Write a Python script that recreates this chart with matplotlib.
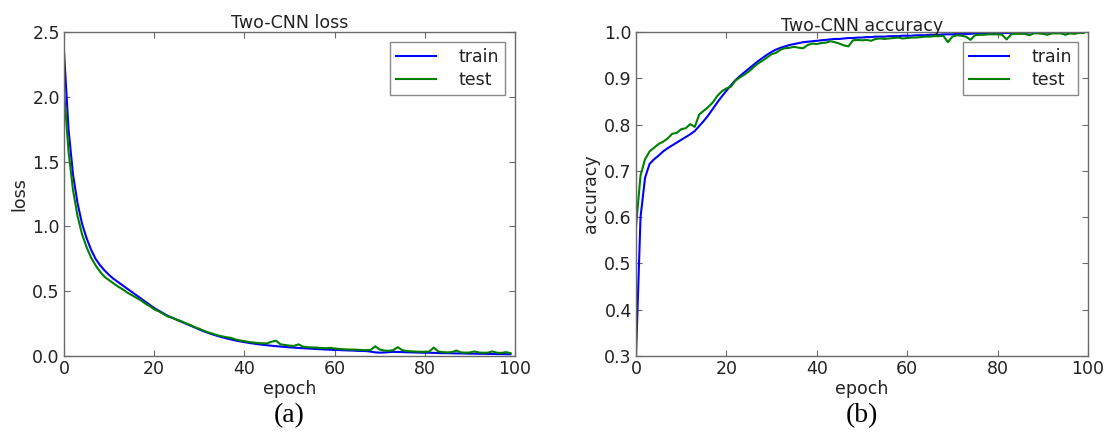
import matplotlib
matplotlib.use("Agg")
import matplotlib.pyplot as plt

epochs = list(range(100))

loss_train = [
    2.35, 1.75, 1.40, 1.18, 1.02, 0.91, 0.82, 0.75, 0.70, 0.66,
    0.625, 0.595, 0.57, 0.545, 0.52, 0.495, 0.47, 0.445, 0.42, 0.395,
    0.37, 0.35, 0.33, 0.31, 0.295, 0.28, 0.265, 0.25, 0.235, 0.22,
    0.205, 0.19, 0.178, 0.166, 0.155, 0.145, 0.136, 0.128, 0.12, 0.113,
    0.107, 0.101, 0.096, 0.091, 0.087, 0.083, 0.079, 0.076, 0.073, 0.07,
    0.067, 0.065, 0.062, 0.06, 0.058, 0.056, 0.054, 0.052, 0.05, 0.049,
    0.047, 0.046, 0.044, 0.043, 0.042, 0.04, 0.039, 0.038, 0.034, 0.028,
    0.026, 0.027, 0.03, 0.032, 0.031, 0.03, 0.029, 0.028, 0.027, 0.026,
    0.025, 0.025, 0.024, 0.023, 0.022, 0.022, 0.021, 0.02, 0.02, 0.019,
    0.018, 0.018, 0.017, 0.017, 0.016, 0.016, 0.015, 0.015, 0.014, 0.014,
]
loss_test = [
    2.05, 1.58, 1.28, 1.08, 0.94, 0.84, 0.76, 0.70, 0.65, 0.61,
    0.585, 0.56, 0.535, 0.515, 0.49, 0.47, 0.45, 0.43, 0.405, 0.385,
    0.36, 0.345, 0.325, 0.305, 0.295, 0.28, 0.268, 0.252, 0.24, 0.222,
    0.21, 0.195, 0.182, 0.172, 0.16, 0.152, 0.145, 0.14, 0.128, 0.12,
    0.115, 0.108, 0.104, 0.1, 0.098, 0.097, 0.11, 0.118, 0.09, 0.085,
    0.08, 0.078, 0.09, 0.072, 0.068, 0.066, 0.065, 0.062, 0.06, 0.063,
    0.058, 0.055, 0.052, 0.05, 0.05, 0.048, 0.046, 0.045, 0.047, 0.075,
    0.05, 0.042, 0.04, 0.045, 0.068, 0.045, 0.038, 0.036, 0.034, 0.033,
    0.032, 0.035, 0.065, 0.035, 0.03, 0.028, 0.03, 0.042, 0.028, 0.026,
    0.027, 0.035, 0.027, 0.025, 0.026, 0.035, 0.025, 0.024, 0.03, 0.022,
]

acc_train = [
    0.30, 0.60, 0.685, 0.715, 0.725, 0.733, 0.742, 0.749, 0.755, 0.761,
    0.767, 0.773, 0.779, 0.786, 0.797, 0.808, 0.82, 0.834, 0.848, 0.861,
    0.873, 0.885, 0.896, 0.905, 0.913, 0.921, 0.929, 0.937, 0.944, 0.951,
    0.957, 0.962, 0.966, 0.969, 0.972, 0.974, 0.976, 0.978, 0.979, 0.98,
    0.981, 0.982, 0.983, 0.984, 0.985, 0.985, 0.986, 0.987, 0.987, 0.988,
    0.988, 0.989, 0.989, 0.99, 0.99, 0.99, 0.991, 0.991, 0.991, 0.992,
    0.992, 0.992, 0.993, 0.993, 0.993, 0.994, 0.994, 0.994, 0.995, 0.995,
    0.995, 0.996, 0.996, 0.996, 0.996, 0.997, 0.997, 0.997, 0.997, 0.997,
    0.998, 0.998, 0.998, 0.998, 0.998, 0.998, 0.998, 0.999, 0.999, 0.999,
    0.999, 0.999, 0.999, 0.999, 0.999, 0.999, 0.999, 0.999, 0.999, 0.999,
]
acc_test = [
    0.58, 0.69, 0.725, 0.742, 0.75, 0.758, 0.763, 0.77, 0.78, 0.782,
    0.79, 0.792, 0.801, 0.795, 0.822, 0.83, 0.838, 0.848, 0.862, 0.872,
    0.878, 0.882, 0.895, 0.902, 0.908, 0.915, 0.924, 0.932, 0.938, 0.945,
    0.952, 0.955, 0.962, 0.965, 0.966, 0.968, 0.966, 0.965, 0.972, 0.975,
    0.974, 0.976, 0.977, 0.98, 0.978, 0.975, 0.971, 0.969, 0.982, 0.983,
    0.982, 0.983, 0.981, 0.985, 0.986, 0.985, 0.986, 0.987, 0.988, 0.986,
    0.987, 0.988, 0.988, 0.989, 0.99, 0.99, 0.991, 0.991, 0.992, 0.978,
    0.99, 0.993, 0.992, 0.99, 0.983, 0.993, 0.994, 0.994, 0.995, 0.995,
    0.995, 0.994, 0.984, 0.995, 0.996, 0.996, 0.996, 0.993, 0.997, 0.997,
    0.996, 0.994, 0.997, 0.997, 0.997, 0.994, 0.997, 0.996, 0.998, 0.998,
]

frame_col = "#6a6a6a"
text_col = "#222222"
fs = 12.5

fig = plt.figure(figsize=(11.09, 4.32), dpi=100)
fig.patch.set_facecolor("white")

ax1 = fig.add_axes([64 / 1109, 76 / 432, 451 / 1109, 324 / 432])
ax2 = fig.add_axes([636 / 1109, 76 / 432, 452 / 1109, 324 / 432])


def style_axes(ax):
    for sp in ax.spines.values():
        sp.set_color(frame_col)
        sp.set_linewidth(1.0)
    ax.tick_params(direction="in", length=4, width=0.8, color=frame_col,
                   top=True, right=True, labelsize=fs, labelcolor=text_col, pad=3)


ax1.plot(epochs, loss_train, color="blue", lw=1.5, label="train")
ax1.plot(epochs, loss_test, color="green", lw=1.5, label="test")
ax1.set_xlim(0, 100)
ax1.set_ylim(0, 2.5)
ax1.set_xticks([0, 20, 40, 60, 80, 100])
ax1.set_yticks([0.0, 0.5, 1.0, 1.5, 2.0, 2.5])
ax1.set_yticklabels(["0.0", "0.5", "1.0", "1.5", "2.0", "2.5"])
ax1.set_title("Two-CNN loss", fontsize=fs, color=text_col, pad=3)
ax1.set_xlabel("epoch", fontsize=fs, color=text_col, labelpad=1)
ax1.set_ylabel("loss", fontsize=fs, color=text_col, labelpad=3)
style_axes(ax1)

ax2.plot(epochs, acc_train, color="blue", lw=1.5, label="train")
ax2.plot(epochs, acc_test, color="green", lw=1.5, label="test")
ax2.set_xlim(0, 100)
ax2.set_ylim(0.3, 1.0)
ax2.set_xticks([0, 20, 40, 60, 80, 100])
ax2.set_yticks([0.3, 0.4, 0.5, 0.6, 0.7, 0.8, 0.9, 1.0])
ax2.set_title("Two-CNN accuracy", fontsize=fs, color=text_col, pad=1)
ax2.set_xlabel("epoch", fontsize=fs, color=text_col, labelpad=1)
ax2.set_ylabel("accuracy", fontsize=fs, color=text_col, labelpad=3)
style_axes(ax2)

for ax in (ax1, ax2):
    leg = ax.legend(loc="upper right", fontsize=fs, fancybox=False,
                    handlelength=2.3, handletextpad=1.3, borderpad=0.35,
                    borderaxespad=0.55, labelspacing=0.3)
    leg.get_frame().set_edgecolor(frame_col)
    leg.get_frame().set_linewidth(1.0)
    for t in leg.get_texts():
        t.set_color(text_col)

fig.text(ax1.get_position().x0 + ax1.get_position().width / 2, 16 / 432, "(a)",
         ha="center", va="center", fontsize=20, family="Liberation Serif")
fig.text(ax2.get_position().x0 + ax2.get_position().width / 2, 16 / 432, "(b)",
         ha="center", va="center", fontsize=20, family="Liberation Serif")

fig.savefig("out.png", dpi=100, facecolor="white")
